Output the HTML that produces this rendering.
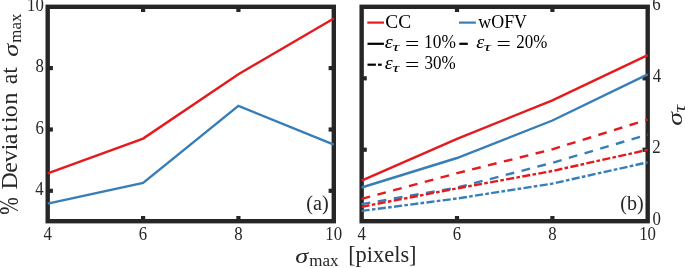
<!DOCTYPE html>
<html><head><meta charset="utf-8"><title>figure</title>
<style>html,body{margin:0;padding:0;background:#fff}svg{display:block}text{font-family:"Liberation Serif",serif;fill:#262626}.k text{fill:#000}.i{font-style:italic}</style></head><body>
<svg width="685" height="268" viewBox="0 0 685 268">
<rect width="685" height="268" fill="#fff"/>
<g stroke="#262626" stroke-width="4.2">
<line x1="143.1" y1="221.2" x2="143.1" y2="216.0"/><line x1="143.1" y1="6.8" x2="143.1" y2="12.0"/>
<line x1="238.4" y1="221.2" x2="238.4" y2="216.0"/><line x1="238.4" y1="6.8" x2="238.4" y2="12.0"/>
<line x1="47.7" y1="68.1" x2="52.9" y2="68.1"/><line x1="333.8" y1="68.1" x2="328.6" y2="68.1"/>
<line x1="47.7" y1="129.5" x2="52.9" y2="129.5"/><line x1="333.8" y1="129.5" x2="328.6" y2="129.5"/>
<line x1="47.7" y1="190.8" x2="52.9" y2="190.8"/><line x1="333.8" y1="190.8" x2="328.6" y2="190.8"/>
<line x1="457.0" y1="221.2" x2="457.0" y2="216.0"/><line x1="457.0" y1="6.8" x2="457.0" y2="12.0"/>
<line x1="552.4" y1="221.2" x2="552.4" y2="216.0"/><line x1="552.4" y1="6.8" x2="552.4" y2="12.0"/>
<line x1="361.65" y1="149.7" x2="366.8" y2="149.7"/><line x1="647.7" y1="149.7" x2="642.5" y2="149.7"/>
<line x1="361.65" y1="78.3" x2="366.8" y2="78.3"/><line x1="647.7" y1="78.3" x2="642.5" y2="78.3"/>
</g>
<rect x="47.7" y="6.8" width="286.10" height="214.40" fill="none" stroke="#262626" stroke-width="4.4"/>
<rect x="361.65" y="6.8" width="286.05" height="214.40" fill="none" stroke="#262626" stroke-width="4.4"/>
<g fill="none" stroke-width="2.4" stroke-linejoin="miter">
<polyline stroke="#e41a1c" points="47.7,173.4 143.1,138.6 238.4,74.2 333.8,18.5"/>
<polyline stroke="#377eb8" points="47.7,203.6 143.1,183.0 238.4,105.9 333.8,144.7"/>
<polyline stroke="#e41a1c" points="361.6,180.6 457.0,138.9 552.4,100.3 647.7,55.2"/>
<polyline stroke="#377eb8" points="361.6,187.5 457.0,158.0 552.4,120.5 647.7,74.4"/>
<polyline stroke="#e41a1c" stroke-dasharray="8.8 7.55" points="361.6,198.9 457.0,173.2 552.4,149.3 647.7,119.6"/>
<polyline stroke="#377eb8" stroke-dasharray="8.8 7.55" points="361.6,204.1 457.0,187.6 552.4,162.8 647.7,134.6"/>
<polyline stroke="#e41a1c" stroke-dasharray="8.1 2.3 3.6 2.35" points="361.6,206.8 457.0,188.4 552.4,171.0 647.7,149.8"/>
<polyline stroke="#377eb8" stroke-dasharray="8.1 2.3 3.6 2.35" points="361.6,210.9 457.0,198.5 552.4,183.6 647.7,162.3"/>
</g>
<text transform="translate(43.50,240.0) scale(1.084,1.15)" font-size="15.5">4</text>
<text transform="translate(138.73,240.0) scale(1.084,1.15)" font-size="15.5">6</text>
<text transform="translate(234.23,240.0) scale(1.084,1.15)" font-size="15.5">8</text>
<text transform="translate(325.30,240.0) scale(1.084,1.15)" font-size="15.5">10</text>
<text transform="translate(357.45,240.0) scale(1.084,1.15)" font-size="15.5">4</text>
<text transform="translate(452.67,240.0) scale(1.084,1.15)" font-size="15.5">6</text>
<text transform="translate(548.15,240.0) scale(1.084,1.15)" font-size="15.5">8</text>
<text transform="translate(639.20,240.0) scale(1.084,1.15)" font-size="15.5">10</text>
<text transform="translate(27.05,10.8) scale(1.084,1.15)" font-size="15.5">10</text>
<text transform="translate(35.44,72.1) scale(1.084,1.15)" font-size="15.5">8</text>
<text transform="translate(35.44,133.5) scale(1.084,1.15)" font-size="15.5">6</text>
<text transform="translate(35.17,194.8) scale(1.084,1.15)" font-size="15.5">4</text>
<text transform="translate(652.46,224.8) scale(1.084,1.15)" font-size="15.5">0</text>
<text transform="translate(652.19,153.3) scale(1.084,1.15)" font-size="15.5">2</text>
<text transform="translate(652.73,81.9) scale(1.084,1.15)" font-size="15.5">4</text>
<text transform="translate(652.19,10.4) scale(1.084,1.15)" font-size="15.5">6</text>
<text transform="translate(306.34,209.8) scale(0.965,1.04)" font-size="21">(a)</text>
<text transform="translate(620.34,209.7) scale(0.956,1.04)" font-size="21">(b)</text>
<text class="i" transform="translate(295.23,262.5) scale(1.155,0.91)" font-size="22.6">σ</text>
<text transform="translate(309.15,265.7) scale(1.002,1.0)" font-size="17">max</text>
<text transform="translate(348.17,262.3) scale(0.991,1.05)" font-size="22.6">[pixels]</text>
<text transform="translate(18.4,214.80) rotate(-90) scale(0.928,1.19)" font-size="22.6">%</text>
<text transform="translate(17.4,189.56) rotate(-90) scale(1.06,1)" font-size="22.6" dx="0 -0.56 -0.09 0.07 -0.5 1.6 1.97 -0.86 0.87">Deviation</text>
<text transform="translate(17.4,84.29) rotate(-90) scale(1.052,1.0)" font-size="22.6">at</text>
<text class="i" transform="translate(17.7,56.87) rotate(-90) scale(1.164,0.93)" font-size="22.6">σ</text>
<text transform="translate(21.0,42.75) rotate(-90) scale(0.995,1.0)" font-size="17">max</text>
<text class="i" transform="translate(681.7,125.82) rotate(-90) scale(1.227,0.9)" font-size="22.6">σ</text>
<text class="i" transform="translate(684.9,112.54) rotate(-90) scale(1.076,0.8)" font-size="20">τ</text>
<g class="k">
<g fill="none" stroke-width="2.2">
<line x1="367.3" y1="22.6" x2="384" y2="22.6" stroke="#e41a1c"/>
<line x1="459" y1="22.6" x2="475.9" y2="22.6" stroke="#377eb8"/>
<line x1="367.5" y1="43.8" x2="383.9" y2="43.8" stroke="#000"/>
<line x1="459.3" y1="43.8" x2="467.8" y2="43.8" stroke="#000"/>
<line x1="367.5" y1="64.7" x2="375.9" y2="64.7" stroke="#000"/>
<line x1="378" y1="64.7" x2="381.7" y2="64.7" stroke="#000"/>
</g>
<text transform="translate(385.19,27.5) scale(1.079,1.0)" font-size="18">CC</text>
<text transform="translate(478.30,27.5) scale(0.995,1.0)" font-size="18">wOFV</text>
<text class="i" transform="translate(384.84,48.2) scale(1.123,1.0)" font-size="18">ε</text>
<text class="i" transform="translate(392.37,50.8) scale(1.252,0.72)" font-size="16">τ</text>
<text transform="translate(405.08,49.5) scale(1.418,1.0)" font-size="18">=</text>
<text transform="translate(424.06,48.2) scale(0.963,1.0)" font-size="18">10%</text>
<text class="i" transform="translate(476.34,48.2) scale(1.123,1.0)" font-size="18">ε</text>
<text class="i" transform="translate(483.87,50.8) scale(1.252,0.72)" font-size="16">τ</text>
<text transform="translate(496.58,49.5) scale(1.418,1.0)" font-size="18">=</text>
<text transform="translate(516.30,48.2) scale(0.940,1.0)" font-size="18">20%</text>
<text class="i" transform="translate(384.84,69.3) scale(1.123,1.0)" font-size="18">ε</text>
<text class="i" transform="translate(392.37,71.9) scale(1.252,0.72)" font-size="16">τ</text>
<text transform="translate(405.08,70.6) scale(1.418,1.0)" font-size="18">=</text>
<text transform="translate(424.55,69.3) scale(0.947,1.0)" font-size="18">30%</text>
</g>
</svg></body></html>
